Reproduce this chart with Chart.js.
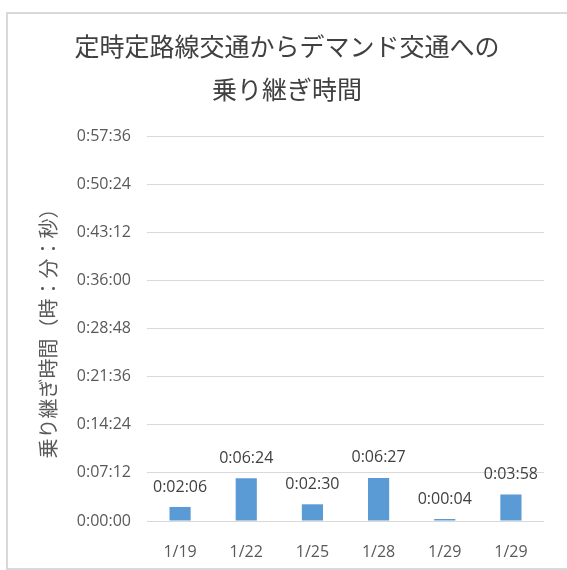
<!DOCTYPE html>
<html>
<head>
<meta charset="utf-8">
<script src="https://cdn.jsdelivr.net/npm/chart.js@4"></script>
<style>
  html, body { margin: 0; padding: 0; background: #fff; overflow: hidden; }
  #frame {
    position: absolute; left: 6px; top: 12px; width: 620px; height: 554px;
    border: 2px solid #d9d9d9;
  }
  #wrap { position: absolute; left: 0; top: 0; width: 567px; height: 570px; }
</style>
</head>
<body>
<div id="frame"></div>
<div id="wrap"><canvas id="transfer-chart"></canvas></div>
<script>
// 乗り継ぎ日
var dates = ['1/19', '1/22', '1/25', '1/28', '1/29', '1/29'];
// 乗り継ぎ時間（秒）
var waitSeconds = [126, 384, 150, 387, 4, 238];
// 目盛り：0:00:00 から 0:57:36 まで 0:07:12 刻み
var axisMax = 3456;
var axisStep = 432;

var titleLines = ['定時定路線交通からデマンド交通への', '乗り継ぎ時間'];
var axisTitle = '乗り継ぎ時間（時：分：秒）';

var textColor = '#595959';
var gridColor = '#d9d9d9';
var barColor = '#5b9bd5';
var latin = '"Open Sans", "Noto Sans", sans-serif';
var cjk = '"Noto Sans CJK JP", sans-serif';

function hms(sec) {
  var h = Math.floor(sec / 3600);
  var m = Math.floor((sec % 3600) / 60);
  var s = Math.round(sec % 60);
  return h + ':' + (m < 10 ? '0' : '') + m + ':' + (s < 10 ? '0' : '') + s;
}

// 棒の上に値を表示
var valueLabels = {
  id: 'valueLabels',
  afterDatasetsDraw: function (chart) {
    var ctx = chart.ctx;
    var meta = chart.getDatasetMeta(0);
    ctx.save();
    ctx.font = '16px ' + latin;
    ctx.fillStyle = '#404040';
    ctx.textAlign = 'center';
    ctx.textBaseline = 'middle';
    meta.data.forEach(function (bar, i) {
      ctx.fillText(hms(waitSeconds[i]), bar.x, bar.y - 20);
    });
    ctx.restore();
  }
};

new Chart(document.getElementById('transfer-chart'), {
  type: 'bar',
  data: {
    labels: dates,
    datasets: [{
      data: waitSeconds,
      backgroundColor: barColor,
      borderWidth: 0,
      barPercentage: 1,
      categoryPercentage: 0.32,
      minBarLength: 2
    }]
  },
  options: {
    responsive: true,
    maintainAspectRatio: false,
    animation: false,
    layout: { padding: { top: 12, left: 30, right: 23, bottom: 0 } },
    plugins: {
      legend: { display: false },
      tooltip: { enabled: false },
      title: {
        display: true,
        text: titleLines,
        color: '#404040',
        font: { family: cjk, size: 25, weight: 'normal', lineHeight: 1.72 },
        padding: { top: 13, bottom: 25 }
      }
    },
    scales: {
      x: {
        grid: { display: false },
        border: { display: false },
        ticks: { color: textColor, font: { family: latin, size: 16 }, padding: 14, maxRotation: 0 },
        afterFit: function (scale) { scale.height = 49; }
      },
      y: {
        min: 0,
        max: axisMax,
        border: { display: false },
        grid: { color: gridColor, drawTicks: false },
        ticks: {
          stepSize: axisStep,
          color: textColor,
          padding: 16,
          font: { family: latin, size: 16 },
          callback: function (v) { return hms(v); }
        },
        title: {
          display: true,
          text: axisTitle,
          color: textColor,
          font: { family: cjk, size: 20, weight: 'normal' },
          padding: { top: 6, bottom: 0 }
        },
        afterFit: function (scale) { scale.width = 117; }
      }
    }
  },
  plugins: [valueLabels]
});
</script>
</body>
</html>
